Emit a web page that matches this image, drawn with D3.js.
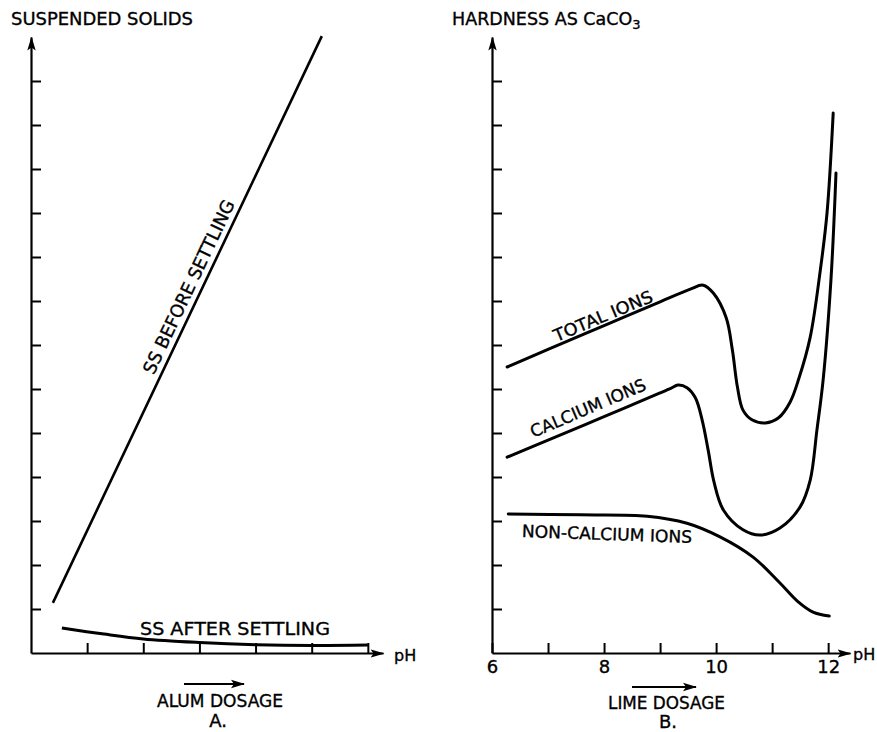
<!DOCTYPE html>
<html>
<head>
<meta charset="utf-8">
<script src="https://cdn.jsdelivr.net/npm/d3@7"></script>
<style>
  html, body { margin: 0; padding: 0; background: #fff; }
  svg { display: block; }
  text { font-family: "DejaVu Sans", "Liberation Sans", sans-serif; fill: #000; stroke: #000; stroke-width: 0.35px; }
</style>
</head>
<body>
<svg id="chart" width="877" height="732"></svg>
<script>
// ---------------- DATA ----------------
// Panel A (alum dosage, arbitrary units)
const alumTicks = [1, 2, 3, 4, 5, 6];
const yTicks = [1, 2, 3, 4, 5, 6, 7, 8, 9, 10, 11, 12, 13];
const ssBeforeSettling = [[0.39, 1.14], [5.18, 14.02]];
const ssAfterSettling = [[0.55, 0.57], [1.3, 0.43], [2.0, 0.32], [3.0, 0.24], [4.0, 0.19], [5.0, 0.17], [6.0, 0.18]];

// Panel B (pH)
const phTicks = [6, 7, 8, 9, 10, 11, 12];
const phLabels = [6, 8, 10, 12];
const totalIons = [
  [6.27, 6.50], [7.0, 6.90], [8.0, 7.44], [9.0, 7.98], [9.54, 8.27], [9.77, 8.36], [9.95, 8.18],
  [10.18, 7.62], [10.29, 6.89], [10.38, 6.05], [10.48, 5.52], [10.64, 5.30], [10.88, 5.23],
  [11.11, 5.34], [11.32, 5.70], [11.48, 6.25], [11.68, 7.18], [11.86, 8.70], [11.98, 10.0], [12.09, 12.27]
];
const calciumIons = [
  [6.27, 4.45], [7.0, 4.84], [8.0, 5.37], [9.0, 5.91], [9.20, 6.02], [9.32, 6.09], [9.48, 6.03],
  [9.63, 5.80], [9.75, 5.30], [9.86, 4.60], [9.96, 3.90], [10.13, 3.25], [10.48, 2.80],
  [10.79, 2.68], [11.14, 2.84], [11.50, 3.32], [11.68, 3.93], [11.80, 5.07], [11.91, 6.20],
  [12.05, 8.48], [12.14, 10.91]
];
const nonCalciumIons = [
  [6.29, 3.16], [7.57, 3.14], [8.77, 3.11], [9.48, 2.95], [10.07, 2.64], [10.66, 2.18],
  [11.14, 1.59], [11.45, 1.18], [11.73, 0.93], [12.02, 0.84]
];

// ---------------- DRAW ----------------
const svg = d3.select("#chart");
const defs = svg.append("defs");
defs.append("marker")
  .attr("id", "arrow")
  .attr("markerUnits", "userSpaceOnUse")
  .attr("viewBox", "0 -5 14 10")
  .attr("refX", 13).attr("refY", 0)
  .attr("markerWidth", 14).attr("markerHeight", 10)
  .attr("orient", "auto")
  .append("path")
  .attr("d", "M0,-4.2L14,0L0,4.2L3,0Z")
  .attr("fill", "#000");

const axisStroke = 2.2;
const curveStroke = 3;

function styleAxis(g) {
  g.select(".domain").attr("stroke", "#000").attr("stroke-width", axisStroke)
    .attr("marker-end", "url(#arrow)");
  g.selectAll(".tick line").attr("stroke", "#000").attr("stroke-width", 2);
}

// ----- Panel A -----
const xA = d3.scaleLinear().domain([0, 6.27]).range([31, 383]);
const yA = d3.scaleLinear().domain([0, 14]).range([653, 37]);

const gAy = svg.append("g").attr("transform", `translate(${xA(0)},0)`)
  .call(d3.axisLeft(yA).tickValues(yTicks).tickSizeInner(-10).tickSizeOuter(0).tickFormat(""));
styleAxis(gAy);
const gAx = svg.append("g").attr("transform", `translate(0,${yA(0)})`)
  .call(d3.axisBottom(xA).tickValues(alumTicks).tickSizeInner(-10).tickSizeOuter(0).tickFormat(""));
styleAxis(gAx);

const lineA = d3.line().x(d => xA(d[0])).y(d => yA(d[1])).curve(d3.curveCatmullRom.alpha(0.5));
svg.append("path").datum(ssBeforeSettling).attr("d", lineA)
  .attr("fill", "none").attr("stroke", "#000").attr("stroke-width", 2.6);
svg.append("path").datum(ssAfterSettling).attr("d", lineA)
  .attr("fill", "none").attr("stroke", "#000").attr("stroke-width", curveStroke);

svg.append("text").attr("x", 11).attr("y", 25).attr("font-size", 17.5)
  .attr("textLength", 182).attr("lengthAdjust", "spacingAndGlyphs").text("SUSPENDED SOLIDS");
svg.append("text").attr("x", 394).attr("y", 661).attr("font-size", 16).text("pH");

svg.append("text").attr("transform", "translate(189,287) rotate(-64.6)")
  .attr("text-anchor", "middle").attr("y", 6).attr("font-size", 18)
  .attr("textLength", 190).attr("lengthAdjust", "spacingAndGlyphs").text("SS BEFORE SETTLING");
svg.append("text").attr("x", 140).attr("y", 635).attr("font-size", 18)
  .attr("textLength", 190).attr("lengthAdjust", "spacingAndGlyphs").text("SS AFTER SETTLING");

svg.append("line").attr("x1", 184).attr("x2", 244).attr("y1", 684).attr("y2", 684)
  .attr("stroke", "#000").attr("stroke-width", 2).attr("marker-end", "url(#arrow)");
svg.append("text").attr("x", 157).attr("y", 707).attr("font-size", 17)
  .attr("textLength", 126).attr("lengthAdjust", "spacingAndGlyphs").text("ALUM DOSAGE");
svg.append("text").attr("x", 218).attr("y", 727).attr("font-size", 18)
  .attr("text-anchor", "middle").text("A.");

// ----- Panel B -----
const xB = d3.scaleLinear().domain([6, 12.39]).range([492, 850]);
const yB = d3.scaleLinear().domain([0, 14]).range([653, 37]);

const gBy = svg.append("g").attr("transform", `translate(${xB(6)},0)`)
  .call(d3.axisLeft(yB).tickValues(yTicks).tickSizeInner(-10).tickSizeOuter(0).tickFormat(""));
styleAxis(gBy);
const gBx = svg.append("g").attr("transform", `translate(0,${yB(0)})`)
  .call(d3.axisBottom(xB).tickValues(phTicks).tickSizeInner(-10).tickSizeOuter(0).tickPadding(7)
    .tickFormat(d => phLabels.includes(d) ? d : ""));
styleAxis(gBx);
gBx.selectAll(".tick text").attr("font-size", 18).attr("font-family", "DejaVu Sans, sans-serif")
  .attr("fill", "#000").attr("stroke", "#000").attr("stroke-width", 0.35);

const lineB = d3.line().x(d => xB(d[0])).y(d => yB(d[1])).curve(d3.curveCatmullRom.alpha(0.5));
[totalIons, calciumIons, nonCalciumIons].forEach(s => {
  svg.append("path").datum(s).attr("d", lineB)
    .attr("fill", "none").attr("stroke", "#000").attr("stroke-width", curveStroke)
    .attr("stroke-linejoin", "round").attr("stroke-linecap", "round");
});

const hTitle = svg.append("text").attr("x", 452).attr("y", 25).attr("font-size", 17.5);
hTitle.append("tspan").text("HARDNESS AS CaCO");
hTitle.append("tspan").attr("dy", 4).attr("font-size", 13).text("3");
svg.append("text").attr("x", 853).attr("y", 660).attr("font-size", 16).text("pH");

svg.append("text").attr("transform", "translate(603,316) rotate(-22.7)")
  .attr("text-anchor", "middle").attr("y", 6).attr("font-size", 17)
  .attr("textLength", 106).attr("lengthAdjust", "spacingAndGlyphs").text("TOTAL  IONS");
svg.append("text").attr("transform", "translate(588,408) rotate(-23.1)")
  .attr("text-anchor", "middle").attr("y", 6).attr("font-size", 17)
  .attr("textLength", 124).attr("lengthAdjust", "spacingAndGlyphs").text("CALCIUM  IONS");
svg.append("text").attr("transform", "translate(607,534) rotate(2)")
  .attr("text-anchor", "middle").attr("y", 6).attr("font-size", 17)
  .attr("textLength", 170).attr("lengthAdjust", "spacingAndGlyphs").text("NON-CALCIUM  IONS");

svg.append("line").attr("x1", 632).attr("x2", 696).attr("y1", 687).attr("y2", 687)
  .attr("stroke", "#000").attr("stroke-width", 2).attr("marker-end", "url(#arrow)");
svg.append("text").attr("x", 608).attr("y", 709).attr("font-size", 17)
  .attr("textLength", 117).attr("lengthAdjust", "spacingAndGlyphs").text("LIME DOSAGE");
svg.append("text").attr("x", 668).attr("y", 728).attr("font-size", 18)
  .attr("text-anchor", "middle").text("B.");
</script>
</body>
</html>
